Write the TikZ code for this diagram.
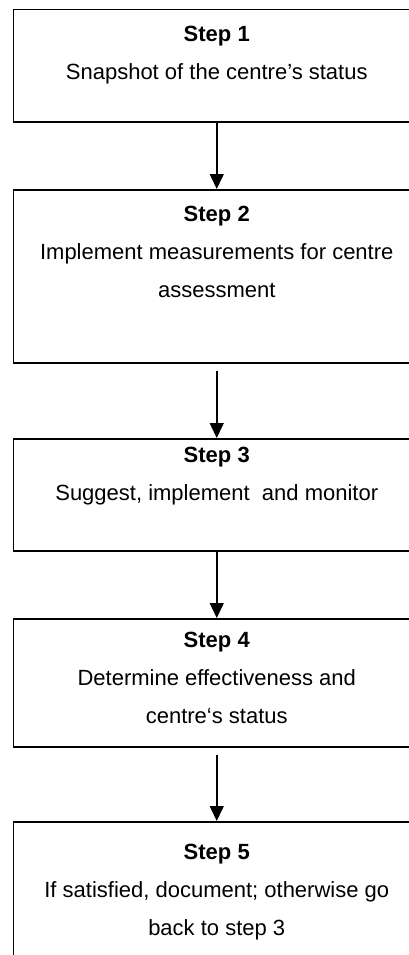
\documentclass[tikz,border=0pt]{standalone}
\usepackage{fontspec}
\setmainfont{Liberation Sans}
\usetikzlibrary{arrows.meta}

\begin{document}
\begin{tikzpicture}[x=1pt,y=-1pt,font=\fontsize{22}{38}\selectfont]
\tikzstyle{step box}=[draw,rectangle,line width=1.5pt,anchor=north,minimum width=406.5pt,inner sep=0]
\tikzstyle{step text}=[anchor=base,align=center,inner sep=0]
\tikzstyle{step arrow}=[line width=1.5pt,-{Triangle[width=14pt,length=15pt]}]

\useasboundingbox (0,0) rectangle (409,955);
\clip (0,0) rectangle (409,955);

% the five boxes (cut off on the right and at the bottom)
\node(box1)[step box,minimum height=112.8pt] at (216.75,8.7) {};
\node(box2)[step box,minimum height=173pt] at (216.75,189) {};
\node(box3)[step box,minimum height=112pt] at (216.75,438) {};
\node(box4)[step box,minimum height=128pt] at (216.75,618) {};
\node(box5)[step box,minimum height=200pt] at (216.75,821) {};

% texts (placed by the baseline of their last line)
\node(txt1)[step text] at (216.75,80) {\textbf{Step 1}\\Snapshot of the centre’s status};
\node(txt2)[step text] at (216.75,297) {\textbf{Step 2}\\Implement measurements for centre\\assessment};
\node(txt3)[step text] at (216.75,500) {\textbf{Step 3}\\Suggest, implement\ \ and monitor};
\node(txt4)[step text] at (216.75,723) {\textbf{Step 4}\\Determine effectiveness and\\centre‘s status};
\node(txt5)[step text] at (216.75,935) {\textbf{Step 5}\\If satisfied, document; otherwise go\\back to step 3};

% arrows
\draw[step arrow](box1.south) -- (box2.north);
\draw[step arrow]([yshift=-7pt]box2.south) -- (box3.north);
\draw[step arrow](box3.south) -- (box4.north);
\draw[step arrow]([yshift=-7pt]box4.south) -- (box5.north);

\end{tikzpicture}
\end{document}
